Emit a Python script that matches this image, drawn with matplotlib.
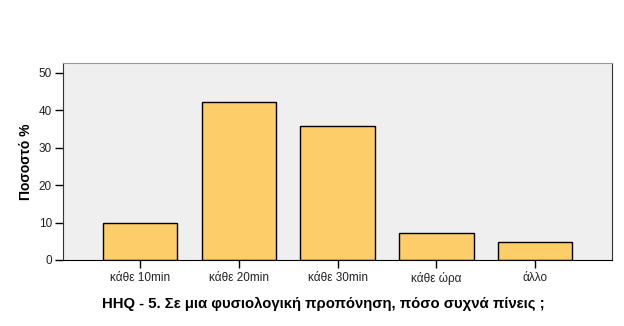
import matplotlib.pyplot as plt

categories = ["κάθε 10min", "κάθε 20min", "κάθε 30min", "κάθε ώρα", "άλλο"]
percent = [9.9, 42.1, 35.8, 7.3, 4.9]
yticks = [0, 10, 20, 30, 40, 50]

plt.rcParams['font.family'] = ['Liberation Sans', 'DejaVu Sans']

fig = plt.figure(figsize=(6.24, 3.26), dpi=100)
ax = fig.add_axes([0.101, 0.2025, 0.88, 0.605])
ax.set_facecolor("#efefef")

x = range(len(categories))
ax.bar(x, percent, width=0.755, color="#fdcd6a", edgecolor="black", linewidth=1.0, zorder=2)

ax.set_xlim(-0.78, len(categories) - 0.22)
ax.set_ylim(0, 52.7)
ax.set_yticks(yticks)
ax.set_xticks(list(x))
ax.set_xticklabels(categories)
ax.tick_params(axis="both", direction="out", length=6, width=1, labelsize=8.5, colors="black")
ax.tick_params(axis="x", pad=3)
ax.tick_params(axis="y", pad=2)
for lab in ax.get_xticklabels() + ax.get_yticklabels():
    lab.set_color("#222222")

ax.spines["top"].set_color("#999999")
ax.spines["right"].set_color("#333333")
ax.spines["left"].set_color("#333333")
ax.spines["bottom"].set_color("black")

ax.set_ylabel("Ποσοστό %", fontsize=10, fontweight="bold", labelpad=4)
ax.set_xlabel("HHQ - 5. Σε μια φυσιολογική προπόνηση, πόσο συχνά πίνεις ;", fontsize=10.7, fontweight="bold")
ax.xaxis.set_label_coords(0.474, -0.185)

fig.savefig("out.png", dpi=100)
